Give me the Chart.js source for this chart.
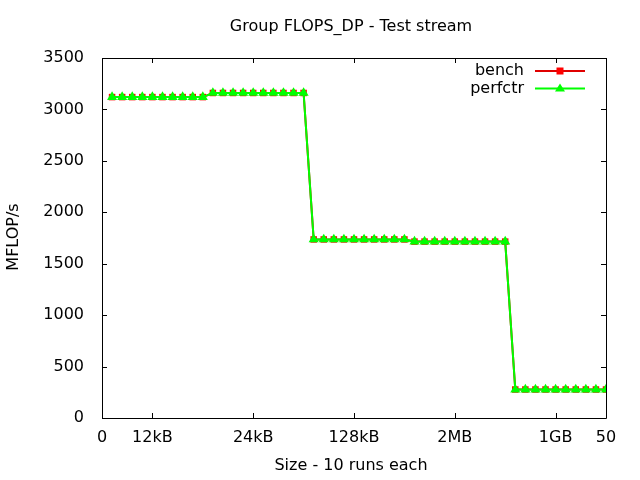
<!DOCTYPE html>
<html>
<head>
<meta charset="utf-8">
<script src="https://cdn.jsdelivr.net/npm/chart.js@4/dist/chart.umd.min.js"></script>
<style>
html,body{margin:0;padding:0;background:#fff;}
#wrap{width:640px;height:480px;position:relative;}
</style>
</head>
<body>
<div id="wrap"><canvas id="c" width="640" height="480"></canvas></div>
<script>
// ---- data ----
const runIndex = [1,2,3,4,5,6,7,8,9,10,11,12,13,14,15,16,17,18,19,20,21,22,23,24,25,26,27,28,29,30,31,32,33,34,35,36,37,38,39,40,41,42,43,44,45,46,47,48,49,50];
const benchValues = [
  3120,3120,3120,3120,3120,3120,3120,3120,3120,3120,
  3160,3160,3160,3160,3160,3160,3160,3160,3160,3160,
  1736,1736,1736,1736,1736,1736,1736,1736,1736,1736,
  1715,1715,1715,1715,1715,1715,1715,1715,1715,1715,
  277,277,277,277,277,277,277,277,277,277
];
const perfctrValues = [
  3120,3120,3120,3120,3120,3120,3120,3120,3120,3120,
  3160,3160,3160,3160,3160,3160,3160,3160,3160,3160,
  1736,1736,1736,1736,1736,1736,1736,1736,1736,1736,
  1715,1715,1715,1715,1715,1715,1715,1715,1715,1715,
  277,277,277,277,277,277,277,277,277,277
];
const xTickValues = [0,5,15,25,35,45,50];
const xTickLabels = ['0','12kB','24kB','128kB','2MB','1GB','50'];
const seriesNames = ['bench','perfctr'];
const chartTitle = 'Group FLOPS_DP - Test stream';
const xAxisTitle = 'Size - 10 runs each';
const yAxisTitle = 'MFLOP/s';

const FONT = 'DejaVu Sans';
const FS = 16;
const RED = '#e00000';
const GREEN = '#00ff00';

function pts(vals){ return runIndex.map((x,i)=>({x:x,y:vals[i]})); }

const framePlugin = {
  id:'frame',
  afterDraw(chart){
    const {ctx, chartArea:a, scales} = chart;
    ctx.save();
    ctx.strokeStyle = '#000';
    ctx.lineWidth = 1;
    ctx.beginPath();
    ctx.rect(Math.round(a.left)+0.5, Math.round(a.top)+0.5, Math.round(a.right-a.left), Math.round(a.bottom-a.top));
    ctx.stroke();
    const tl = 5;
    ctx.beginPath();
    scales.x.ticks.forEach(t=>{
      const px = Math.round(scales.x.getPixelForValue(t.value))+0.5;
      ctx.moveTo(px, a.bottom); ctx.lineTo(px, a.bottom-tl);
      ctx.moveTo(px, a.top); ctx.lineTo(px, a.top+tl);
    });
    scales.y.ticks.forEach(t=>{
      const py = Math.round(scales.y.getPixelForValue(t.value))+0.5;
      ctx.moveTo(a.left, py); ctx.lineTo(a.left+tl, py);
      ctx.moveTo(a.right, py); ctx.lineTo(a.right-tl, py);
    });
    ctx.stroke();
    // titles
    ctx.fillStyle = '#000';
    ctx.font = FS + 'px "' + FONT + '"';
    ctx.textAlign = 'center';
    ctx.textBaseline = 'middle';
    ctx.fillText(chartTitle, 351, 27);
    ctx.fillText(xAxisTitle, 351, 466);
    ctx.save();
    ctx.translate(14, 237);
    ctx.rotate(-Math.PI/2);
    ctx.fillText(yAxisTitle, 0, 0);
    ctx.restore();
    ctx.restore();
  }
};

const legendPlugin = {
  id:'gpLegend',
  afterDatasetsDraw(chart){
    const ctx = chart.ctx;
    ctx.save();
    ctx.font = FS + 'px "' + FONT + '"';
    ctx.textAlign = 'right';
    ctx.textBaseline = 'middle';
    const rows = [
      {name:seriesNames[0], color:RED, fill:'#ff0000', y:71, shape:'rect'},
      {name:seriesNames[1], color:GREEN, fill:GREEN, y:88.5, shape:'tri'}
    ];
    rows.forEach(r=>{
      ctx.fillStyle = '#000';
      ctx.fillText(r.name, 524, r.y);
      ctx.strokeStyle = r.color;
      ctx.lineWidth = 2;
      ctx.beginPath(); ctx.moveTo(535, r.y); ctx.lineTo(585, r.y); ctx.stroke();
      ctx.fillStyle = r.fill;
      ctx.beginPath();
      if(r.shape==='rect'){ ctx.rect(556.5, r.y-3.5, 7, 7); }
      else { ctx.moveTo(560, r.y-5); ctx.lineTo(565, r.y+3); ctx.lineTo(555, r.y+3); ctx.closePath(); }
      ctx.fill();
    });
    ctx.restore();
  }
};

new Chart(document.getElementById('c'), {
  type:'line',
  data:{
    datasets:[
      {label:seriesNames[0], data:pts(benchValues), borderColor:RED, backgroundColor:'#ff0000',
       pointBackgroundColor:'#ff0000', pointBorderColor:'#ff0000', pointBorderWidth:0,
       pointStyle:'rect', pointRadius:4.6, borderWidth:2, order:1, tension:0},
      {label:seriesNames[1], data:pts(perfctrValues), borderColor:GREEN, backgroundColor:GREEN,
       pointBackgroundColor:GREEN, pointBorderColor:GREEN, pointBorderWidth:0,
       pointStyle:'triangle', pointRadius:5.8, borderWidth:2, order:0, tension:0}
    ]
  },
  options:{
    responsive:false, animation:false, devicePixelRatio:1,
    layout:{padding:{left:0,right:34,top:58,bottom:0}},
    plugins:{
      legend:{display:false},
      tooltip:{enabled:false},
      title:{display:false}
    },
    scales:{
      x:{type:'linear', min:0, max:50,
        afterBuildTicks(s){ s.ticks = xTickValues.map(v=>({value:v})); },
        afterFit(s){ s.height = 62; },
        grid:{display:false, drawTicks:false},
        border:{display:false},
        ticks:{autoSkip:false, maxRotation:0, color:'#000', padding:10.4,
          font:{family:FONT, size:FS, lineHeight:1.2},
          callback(v){ const i = xTickValues.indexOf(v); return i>=0 ? xTickLabels[i] : ''; }},
        title:{display:false}
      },
      y:{min:0, max:3500,
        afterFit(s){ s.width = 102; },
        grid:{display:false, drawTicks:false},
        border:{display:false},
        ticks:{stepSize:500, color:'#000', padding:18, font:{family:FONT, size:FS, lineHeight:1.2},
          callback(v){ return String(v); }},
        title:{display:false}
      }
    }
  },
  plugins:[framePlugin, legendPlugin]
});
</script>
</body>
</html>
